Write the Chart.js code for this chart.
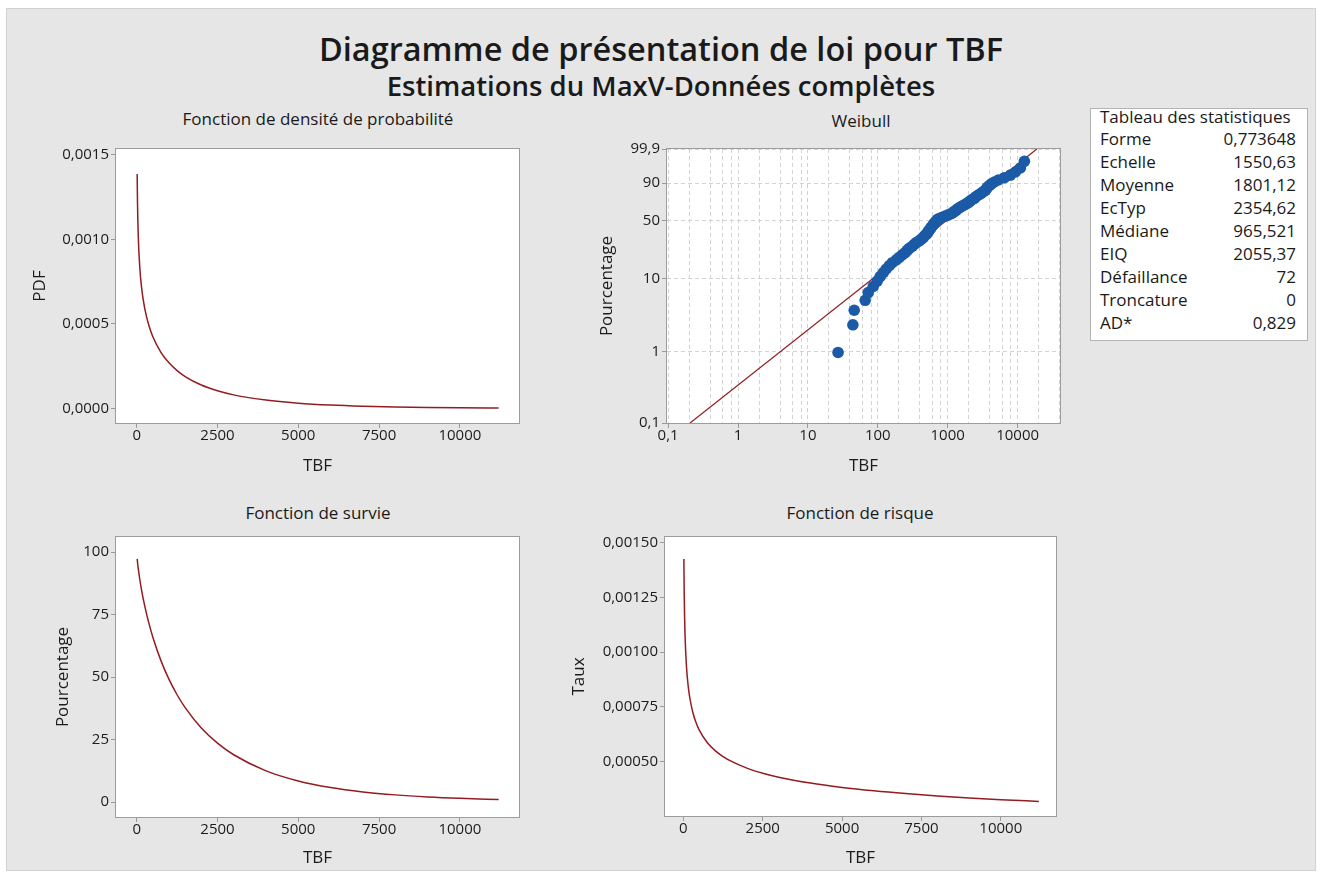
<!DOCTYPE html>
<html lang="fr">
<head>
<meta charset="utf-8">
<title>Diagramme de présentation de loi pour TBF</title>
<script src="https://cdn.jsdelivr.net/npm/chart.js@4.4.1/dist/chart.umd.min.js"></script>
<style>
  html, body { margin: 0; padding: 0; background: #ffffff; }
  body { width: 1322px; height: 877px; position: relative; overflow: hidden;
         font-family: "Open Sans", "Noto Sans", sans-serif; color: #1a1a1a; }
  #sheet { position: absolute; left: 6px; top: 8px; width: 1310px; height: 863px;
           background: #e6e6e6; border: 1px solid #d2d2d2; box-sizing: border-box; }
  .title { position: absolute; white-space: nowrap; transform: translateX(-50%); text-align: center; }
  #main   { left: 661px; top: 29px; font-size: 32.5px; font-weight: 600; line-height: 40px; }
  #sub    { left: 661px; top: 69px; font-size: 27.5px; font-weight: 600; line-height: 34px; }
  .panel  { font-size: 17px; line-height: 20px; }
  canvas  { position: absolute; }
  #statsBox { position: absolute; left: 1090px; top: 108px; width: 218px; height: 233px;
              background: #ffffff; border: 1px solid #b4b4b4; box-sizing: border-box; }
  #statsText { position: absolute; left: 1100px; top: 105.5px; width: 196px;
               font-size: 17px; line-height: 22.9px; }
  .row { display: flex; justify-content: space-between; white-space: nowrap; }
</style>
</head>
<body>
<div id="sheet"></div>
<div class="title" id="main">Diagramme de présentation de loi pour TBF</div>
<div class="title" id="sub">Estimations du MaxV-Données complètes</div>
<div class="title panel" style="left:318px; top:109px;">Fonction de densité de probabilité</div>
<div class="title panel" style="left:861px; top:111px;">Weibull</div>
<div class="title panel" style="left:318px; top:503px;">Fonction de survie</div>
<div class="title panel" style="left:860px; top:503px;">Fonction de risque</div>

<canvas id="pdfChart"></canvas>
<canvas id="probChart"></canvas>
<canvas id="survChart"></canvas>
<canvas id="hazChart"></canvas>

<div id="statsBox"></div>
<div id="statsText"></div>

<script>
// ---------- data ----------
// TBF positions at which the fitted curves are sampled
const curveTBF = [15, 25, 50, 100, 150, 200, 300, 400, 500, 750, 1000, 1250, 1500,
                  2000, 2500, 3000, 4000, 5000, 6000, 7000, 8000, 9000, 10000, 11200];
// probability density
const pdfValues = [0.0013867, 0.0012189, 0.0010121, 0.00082305, 0.00071843, 0.00064609,
                   0.00054656, 0.00047755, 0.00042498, 0.00033257, 0.00027029, 0.00022471,
                   0.00018968, 0.00013939, 0.00010534, 0.0000812, 0.0000502, 0.00003226,
                   0.00002128, 0.00001432, 0.0000098, 0.0000068, 0.00000476, 0.00000315];
// survival, percent
const survivalPct = [97.27, 95.98, 93.23, 88.70, 84.86, 81.46, 75.53, 70.43, 65.93, 56.55,
                     49.05, 42.90, 37.73, 29.59, 23.53, 18.90, 12.47, 8.43, 5.79, 4.04,
                     2.85, 2.03, 1.46, 0.99];
// hazard rate
const hazardRate = [0.0014256, 0.0012700, 0.0010856, 0.00092794, 0.00084656, 0.00079318,
                    0.00072363, 0.00067801, 0.00064461, 0.00058809, 0.00055101, 0.00052386,
                    0.00050268, 0.00047100, 0.00044780, 0.00042969, 0.00040260, 0.00038276,
                    0.00036729, 0.00035469, 0.00034413, 0.00033508, 0.00032718, 0.00031889];

// observed failures (72) and their plotting positions, percent
const failTBF = [27, 44, 46, 66, 73, 86, 98, 108, 120, 132, 146, 161, 184, 203, 224, 247,
                 264, 282, 311, 332, 355, 392, 419, 447, 462, 494, 510, 528, 545, 564, 582,
                 602, 622, 643, 664, 687, 710, 758, 837, 924, 1020, 1126, 1203, 1243, 1328,
                 1372, 1466, 1566, 1673, 1787, 1909, 2040, 2108, 2251, 2405, 2486, 2656,
                 2837, 3030, 3236, 3457, 3573, 3693, 3945, 4213, 4651, 5308, 6471, 7886,
                 9300, 10970, 12518];
const failPct = [0.97, 2.35, 3.73, 5.11, 6.49, 7.87, 9.25, 10.64, 12.02, 13.40, 14.78,
                 16.16, 17.54, 18.92, 20.30, 21.69, 23.07, 24.45, 25.83, 27.21, 28.59,
                 29.97, 31.35, 32.73, 34.12, 35.50, 36.88, 38.26, 39.64, 41.02, 42.40,
                 43.78, 45.17, 46.55, 47.93, 49.31, 50.69, 52.07, 53.45, 54.83, 56.22,
                 57.60, 58.98, 60.36, 61.74, 63.12, 64.50, 65.88, 67.27, 68.65, 70.03,
                 71.41, 72.79, 74.17, 75.55, 76.93, 78.31, 79.70, 81.08, 82.46, 83.84,
                 85.22, 86.60, 87.98, 89.36, 90.75, 92.13, 93.51, 94.89, 96.27, 97.65, 99.03];
// fitted Weibull line, end points
const fitLineTBF = [0.206, 18870];
const fitLinePct = [0.1, 99.9];

// tick values and labels
const tbfTicks = [0, 2500, 5000, 7500, 10000];
const pdfTicks = [0, 0.0005, 0.0010, 0.0015];
const pdfTickLabels = ['0,0000', '0,0005', '0,0010', '0,0015'];
const survTicks = [0, 25, 50, 75, 100];
const hazTicks = [0.0005, 0.00075, 0.0010, 0.00125, 0.0015];
const hazTickLabels = ['0,00050', '0,00075', '0,00100', '0,00125', '0,00150'];
const probTicks = [0.1, 1, 10, 50, 90, 99.9];
const probTickLabels = ['0,1', '1', '10', '50', '90', '99,9'];
const logDecades = [0.1, 1, 10, 100, 1000, 10000];
const logDecadeLabels = ['0,1', '1', '10', '100', '1000', '10000'];
const logSubSteps = [2, 4, 6, 8];

// statistics table
const statLabels = ['Forme', 'Echelle', 'Moyenne', 'EcTyp', 'Médiane', 'EIQ', 'Défaillance', 'Troncature', 'AD*'];
const statValues = ['0,773648', '1550,63', '1801,12', '2354,62', '965,521', '2055,37', '72', '0', '0,829'];

// ---------- styling ----------
const CURVE = '#931c20';
const DOT = '#1b5aa6';
const TICK = '#9a9a9a';
const GRID = '#d3d3d3';
const FONT = "'Open Sans', 'Noto Sans', sans-serif";
Chart.defaults.font.family = FONT;
Chart.defaults.color = '#1c1c1c';

// statistics table text
const st = document.getElementById('statsText');
st.innerHTML = '<div class="row"><span>Tableau des statistiques</span></div>' +
  statLabels.map((l, i) => `<div class="row"><span>${l}</span><span>${statValues[i]}</span></div>`).join('');

// Weibull probability scale: percent mapped through ln(-ln(1-p))
const wb = p => Math.log(-Math.log(1 - p / 100));
class WeibullProbabilityScale extends Chart.LinearScale {
  getPixelForValue(value) {
    const a = wb(this.min), b = wb(this.max);
    return this.getPixelForDecimal((wb(value) - a) / (b - a));
  }
  getValueForPixel(pixel) {
    const a = wb(this.min), b = wb(this.max);
    const w = a + this.getDecimalForPixel(pixel) * (b - a);
    return 100 * (1 - Math.exp(-Math.exp(w)));
  }
}
WeibullProbabilityScale.id = 'weibullProbability';
Chart.register(WeibullProbabilityScale);

const pts = (xs, ys) => xs.map((x, i) => ({ x, y: ys[i] }));

// white plot area and grey frame
const framePlugin = {
  id: 'frame',
  beforeDraw(chart) {
    const { ctx, chartArea: a } = chart;
    ctx.save();
    ctx.fillStyle = '#ffffff';
    ctx.fillRect(a.left, a.top, a.right - a.left, a.bottom - a.top);
    ctx.restore();
  },
  afterDraw(chart) {
    const { ctx, chartArea: a } = chart;
    ctx.save();
    ctx.strokeStyle = '#9c9c9c';
    ctx.lineWidth = 1;
    ctx.strokeRect(a.left - 0.5, a.top - 0.5, a.right - a.left + 1, a.bottom - a.top + 1);
    ctx.restore();
  }
};

function placeCanvas(id, left, top, w, h) {
  const c = document.getElementById(id);
  c.width = w; c.height = h;
  c.style.left = left + 'px'; c.style.top = top + 'px';
  c.style.width = w + 'px'; c.style.height = h + 'px';
  return c;
}

function tickSet(values, labels) {
  return scale => { scale.ticks = values.map((v, i) => ({ value: v, lbl: labels[i] })); };
}

function xAxis(min, max, titlePad) {
  return {
    type: 'linear', min, max, bounds: 'data',
    afterBuildTicks: tickSet(tbfTicks, tbfTicks.map(String)),
    afterFit: s => { s.height = 55; },
    grid: { drawOnChartArea: false, drawTicks: true, tickLength: 5, tickColor: TICK },
    border: { display: false },
    ticks: { autoSkip: false, maxRotation: 0, minRotation: 0, padding: 0,
             font: { size: 15, lineHeight: 1 },
             callback: (v, i, t) => t[i].lbl },
    title: { display: true, text: 'TBF', font: { size: 17 }, padding: { top: 0, bottom: titlePad } }
  };
}

function yAxis(min, max, values, labels, width, title, titlePad) {
  return {
    type: 'linear', min, max, bounds: 'data',
    afterBuildTicks: tickSet(values, labels),
    afterFit: s => { s.width = width; },
    grid: { drawOnChartArea: false, drawTicks: true, tickLength: 5, tickColor: TICK },
    border: { display: false },
    ticks: { autoSkip: false, padding: 2, font: { size: 15, lineHeight: 1 },
             callback: (v, i, t) => t[i].lbl },
    title: { display: true, text: title, font: { size: 17 }, padding: { top: titlePad, bottom: 0 } }
  };
}

function curveChart(canvas, xs, ys, scales) {
  return new Chart(canvas, {
    type: 'scatter',
    data: { datasets: [{
      data: pts(xs, ys), showLine: true, pointRadius: 0,
      borderColor: CURVE, borderWidth: 1.5, cubicInterpolationMode: 'monotone', fill: false
    }] },
    options: {
      responsive: false, animation: false, devicePixelRatio: 1,
      layout: { padding: { top: 10, right: 10, left: 0, bottom: 0 } },
      plugins: { legend: { display: false }, tooltip: { enabled: false } },
      scales
    },
    plugins: [framePlugin]
  });
}

// Fonction de densité de probabilité
curveChart(placeCanvas('pdfChart', 20, 139, 509, 339), curveTBF, pdfValues, {
  x: xAxis(-640, 11830, 1.8),
  y: yAxis(-0.000085, 0.001534, pdfTicks, pdfTickLabels, 96, 'PDF', 9.8)
});

// Fonction de survie
curveChart(placeCanvas('survChart', 20, 527, 509, 345), curveTBF, survivalPct, {
  x: xAxis(-640, 11830, 3.3),
  y: yAxis(-6, 106, survTicks, survTicks.map(String), 96, 'Pourcentage', 32.8)
});

// Fonction de risque
curveChart(placeCanvas('hazChart', 560, 527, 506, 344), curveTBF, hazardRate, {
  x: xAxis(-580, 11740, 2.3),
  y: yAxis(0.0002525, 0.0015255, hazTicks, hazTickLabels, 105, 'Taux', 8.8)
});

// Weibull probability plot
const probXMin = 0.0964, probXMax = 40440;
const logGrid = [];
const logGridLabels = [];
logDecades.forEach((d, i) => {
  logGrid.push(d); logGridLabels.push(logDecadeLabels[i]);
  logSubSteps.forEach(m => {
    if (d * m <= probXMax) { logGrid.push(d * m); logGridLabels.push(''); }
  });
});

new Chart(placeCanvas('probChart', 590, 139, 480, 339), {
  type: 'scatter',
  data: { datasets: [
    { data: pts(failTBF, failPct), showLine: false, pointRadius: 5.8, pointHoverRadius: 5.8,
      backgroundColor: DOT, borderWidth: 0 },
    { data: pts(fitLineTBF, fitLinePct), showLine: true, pointRadius: 0,
      borderColor: CURVE, borderWidth: 1.2 }
  ] },
  options: {
    responsive: false, animation: false, devicePixelRatio: 1,
    layout: { padding: { top: 10, right: 10, left: 0, bottom: 0 } },
    plugins: { legend: { display: false }, tooltip: { enabled: false } },
    scales: {
      x: {
        type: 'logarithmic', min: probXMin, max: probXMax, bounds: 'data',
        afterBuildTicks: tickSet(logGrid, logGridLabels),
        afterFit: s => { s.height = 55; },
        grid: { drawOnChartArea: true, drawTicks: true, tickLength: 5, color: GRID,
                tickColor: c => (c.tick && c.tick.lbl) ? TICK : 'rgba(0,0,0,0)' },
        border: { display: false, dash: [4, 3] },
        ticks: { autoSkip: false, maxRotation: 0, minRotation: 0, padding: 0,
                 font: { size: 15, lineHeight: 1 }, callback: (v, i, t) => t[i].lbl },
        title: { display: true, text: 'TBF', font: { size: 17 }, padding: { top: 0, bottom: 1.8 } }
      },
      y: {
        type: 'weibullProbability', min: 0.1, max: 99.9, bounds: 'data',
        afterBuildTicks: tickSet(probTicks, probTickLabels),
        afterFit: s => { s.width = 77; },
        grid: { drawOnChartArea: true, drawTicks: true, tickLength: 5, color: GRID, tickColor: TICK },
        border: { display: false, dash: [4, 3] },
        ticks: { autoSkip: false, padding: 2, font: { size: 15, lineHeight: 1 },
                 callback: (v, i, t) => t[i].lbl },
        title: { display: true, text: 'Pourcentage', font: { size: 17 }, padding: { top: 6.8, bottom: 0 } }
      }
    }
  },
  plugins: [framePlugin]
});
</script>
</body>
</html>
